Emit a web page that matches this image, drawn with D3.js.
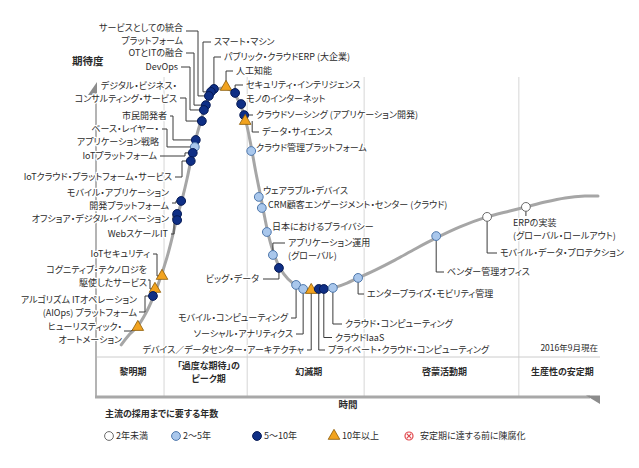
<!DOCTYPE html>
<html><head><meta charset="utf-8">
<script src="https://cdnjs.cloudflare.com/ajax/libs/d3/7.8.5/d3.min.js"></script>
<style>
body{margin:0;background:#fff;}
text{font-family:"Noto Sans CJK JP","Noto Sans",sans-serif;font-feature-settings:"palt" 1;fill:#2b2b2b;}
</style></head><body>
<svg id="c" width="639" height="468"></svg>
<script>
// ---------- DATA ----------
// Hype curve control points (time 0-100, expectation 0-100)
const curveT = [5.0,6.7,8.3,9.9,11.3,12.7,14.1,15.1,16.1,17.1,18.1,19.0,20.0,21.0,22.0,23.0,24.2,25.6,27.0,28.2,29.2,30.0,30.8,31.7,32.7,33.5,34.3,35.3,36.5,38.1,39.9,41.7,43.7,45.6,47.6,49.8,52.0,55.4,59.3,63.3,67.5,72.2,77.6,82.1,85.3,89.1,93.1,97.0,99.6];
const curveE = [1.9,5.9,8.9,13.7,19.3,26.3,34.4,41.5,49.3,55.9,63.7,71.9,79.6,85.9,91.9,95.2,96.7,97.0,95.9,92.6,88.1,82.6,75.2,65.9,56.7,48.9,41.9,35.6,30.4,26.3,23.7,22.2,21.9,22.2,23.3,24.8,26.7,29.6,33.3,37.4,41.5,45.6,49.3,51.5,53.0,54.8,56.3,57.0,57.0];

const itemNames = [
"パブリック・クラウドERP (大企業)","スマート・マシン","サービスとしての統合\nプラットフォーム","OTとITの融合","DevOps",
"デジタル・ビジネス・\nコンサルティング・サービス","市民開発者","ベース・レイヤー・\nアプリケーション戦略","IoTプラットフォーム",
"IoTクラウド・プラットフォーム・サービス","モバイル・アプリケーション\n開発プラットフォーム","オフショア・デジタル・イノベーション",
"WebスケールIT","IoTセキュリティ","コグニティブ・テクノロジを\n駆使したサービス","アルゴリズム ITオペレーション\n(AIOps) プラットフォーム",
"ヒューリスティック・\nオートメーション","人工知能","セキュリティ・インテリジェンス","モノのインターネット",
"クラウドソーシング (アプリケーション開発)","データ・サイエンス","クラウド管理プラットフォーム","ウェアラブル・デバイス",
"CRM顧客エンゲージメント・センター (クラウド)","日本におけるプライバシー","アプリケーション運用\n(グローバル)","ビッグ・データ",
"モバイル・コンピューティング","ソーシャル・アナリティクス","デバイス／データセンター・アーキテクチャ","プライベート・クラウド・コンピューティング",
"クラウドIaaS","クラウド・コンピューティング","エンタープライズ・モビリティ管理","ベンダー管理オフィス",
"モバイル・データ・プロテクション","ERPの実装\n(グローバル・ロールアウト)"];
const itemT = [23.4,22.8,22.4,21.8,21.4,21.0,19.8,19.6,19.2,18.8,16.9,16.1,16.1,13.1,11.7,11.3,8.3,25.8,27.6,28.8,29.4,29.6,30.8,32.3,32.9,33.9,35.1,36.3,39.7,41.1,42.7,44.2,45.2,47.0,52.0,67.5,77.6,85.3];
const itemE = [96.7,95.6,94.1,90.7,88.9,84.8,77.8,75.2,73.0,70.0,55.2,50.4,48.1,27.4,22.6,20.0,8.5,97.4,95.2,91.1,87.0,84.8,73.7,56.7,52.6,43.7,35.2,30.4,24.1,22.6,22.2,22.6,22.6,23.0,26.7,42.2,49.3,53.0];
// 0: <2 yrs, 1: 2-5 yrs, 2: 5-10 yrs, 3: >10 yrs
const itemCat = [2,2,2,2,2,2,2,1,2,2,2,2,2,3,3,2,3,3,2,2,2,3,1,1,1,1,1,2,1,1,3,2,2,1,1,1,0,0];

const phaseNames = ["黎明期","「過度な期待」の\nピーク期","幻滅期","啓蒙活動期","生産性の安定期"];
const phaseBounds = [0,13.5,30.0,53.2,83.9,100];
const legendTitle = "主流の採用までに要する年数";
const legendLabels = ["2年未満","2〜5年","5〜10年","10年以上","安定期に達する前に陳腐化"];
const yTitle = "期待度", xTitle = "時間", asOf = "2016年9月現在";

// ---------- LAYOUT (label placement, pixels) ----------
const layout = [
 [224,57,"start",["hv",221,57]],
 [214,42,"start",["hvh",211,42,203]],
 [183,28,"end",["hvh",186,31,198]],
 [183,53,"end",["hvh",186,53,194]],
 [178,67,"end",["hvh",181,67,190]],
 [177,86,"end",["hvh",180,98,186]],
 [167,116,"end",["hvh",170,116,173]],
 [159,129,"end",["hvh",162,129,167]],
 [157,156,"end",["hvh",160,156,185]],
 [172,177,"end",["hvh",175,177,182]],
 [169,193,"end",["hvh",172,203,176]],
 [169,219,"end",["hvh",172,219,173]],
 [168,234,"end",["hvh",171,234,174]],
 [150,254,"end",["hvh",153,254,157]],
 [147,270,"end",["hvh",148,280,150]],
 [137,300,"end",["hvh",139,312,145]],
 [122,327,"end",["hl",124,331,131]],
 [236,71,"start",["hv",233,71]],
 [246,85,"start",["hv",243,85]],
 [246,99,"start",null],
 [256,115,"start",["hv",253,115]],
 [262,132,"start",["ovh",7,132,259]],
 [256,148,"start",null],
 [263,191,"start",null],
 [268,205,"start",null],
 [272,227,"start",null],
 [288,243,"start",["vh",243,285]],
 [259,279,"end",["hv",263,279]],
 [288,318,"end",["hv",291,318]],
 [293,334,"end",["hv",296,334]],
 [304,350,"end",["hv",307,350]],
 [328,350,"start",["vh",350,325]],
 [335,337.5,"start",["vh",337.5,332]],
 [345,324,"start",["vh",324,342]],
 [367,294,"start",["vh",294,364]],
 [447,272,"start",["vh",272,444]],
 [500,253,"start",["vh",253,497]],
 [513,223,"start",["vh",216,null]]
];

// ---------- DRAW ----------
const svg = d3.select("#c");
const x = d3.scaleLinear().domain([0,100]).range([96,600]);
const y = d3.scaleLinear().domain([0,100]).range([350,80]);
const FS = 9, LH = 12.5;

const plotTop = 77, bandTop = 357, bandBot = 397;
svg.selectAll("line.div").data(phaseBounds.slice(1,-1)).join("line")
  .attr("x1",d=>x(d)).attr("x2",d=>x(d)).attr("y1",plotTop).attr("y2",bandBot)
  .attr("stroke","#d6d6d6").attr("stroke-width",1);
svg.append("line").attr("x1",x(0)).attr("x2",x(100)).attr("y1",bandTop).attr("y2",bandTop)
  .attr("stroke","#cccccc").attr("stroke-width",1);
svg.append("line").attr("x1",x(0)).attr("x2",x(0)).attr("y1",94).attr("y2",bandBot)
  .attr("stroke","#b4b4b4").attr("stroke-width",2);
svg.append("path").attr("d",`M${x(0)-8},95 L${x(0)+1},95 L${x(0)+1},82 Z`).attr("fill","#8c8c8c");
svg.append("line").attr("x1",x(0)-1).attr("x2",x(100)-10).attr("y1",bandBot).attr("y2",bandBot)
  .attr("stroke","#a8a8a8").attr("stroke-width",3);
svg.append("path").attr("d",`M${x(100)-14},${bandBot-1.5} L${x(100)},${bandBot-1.5} L${x(100)},${bandBot+7} Z`).attr("fill","#8c8c8c");

phaseNames.forEach((p,i)=>{
  const cx = (x(phaseBounds[i])+x(phaseBounds[i+1]))/2 + 3;
  const lines = p.split("\n");
  const y0 = lines.length>1 ? 365.5 : 372;
  lines.forEach((l,j)=>svg.append("text").attr("x",cx).attr("y",y0+j*13).attr("dy","0.35em")
    .attr("text-anchor","middle").attr("font-size",9).attr("font-weight","bold").text(l));
});

svg.append("text").attr("x",72).attr("y",61).attr("dy","0.35em").attr("font-size",10.5).attr("font-weight","bold").text(yTitle);
svg.append("text").attr("x",348).attr("y",405).attr("dy","0.35em").attr("text-anchor","middle").attr("font-size",9.5).attr("font-weight","bold").text(xTitle);
svg.append("text").attr("x",598).attr("y",348).attr("dy","0.35em").attr("text-anchor","end").attr("font-size",8.5).text(asOf);

const curveData = curveT.map((t,i)=>[t,curveE[i]]);
svg.append("path").datum(curveData)
  .attr("d",d3.line().x(d=>x(d[0])).y(d=>y(d[1])).curve(d3.curveCatmullRom.alpha(0.5)))
  .attr("fill","none").attr("stroke","#a6a6a6").attr("stroke-width",3).attr("stroke-linecap","round");

const items = itemNames.map((n,i)=>({name:n,t:itemT[i],e:itemE[i],cat:itemCat[i],lay:layout[i]}));
function leader(d){
  const s = d.lay[3]; if(!s) return null;
  const mx = x(d.t), my = y(d.e);
  switch(s[0]){
    case "hvh": return `M${s[1]},${s[2]}H${s[3]}V${my}H${mx}`;
    case "hv": return `M${s[1]},${s[2]}H${mx}V${my}`;
    case "vh": return s[2]==null ? `M${mx},${my}V${s[1]}` : `M${mx},${my}V${s[1]}H${s[2]}`;
    case "hl": return `M${s[1]},${s[2]}H${s[3]}L${mx},${my}`;
    case "ovh": return `M${mx+s[1]},${my}V${s[2]}H${s[3]}`;
  }
}
svg.append("g").selectAll("path").data(items.filter(d=>d.lay[3])).join("path")
  .attr("d",leader).attr("fill","none").attr("stroke","#3a3a3a").attr("stroke-width",1);

const catStyle = [
  {fill:"#ffffff",stroke:"#6b6b6b"},
  {fill:"#a9c7ec",stroke:"#4e77ab"},
  {fill:"#0f2f85",stroke:"#061a55"},
  {fill:"#f2a31f",stroke:"#8a5a08"}
];
function drawMarker(g,cat,cx,cy){
  if(cat===3){
    g.append("path").attr("d",d3.symbol(d3.symbolTriangle,58)()).attr("transform",`translate(${cx},${cy})`)
      .attr("fill",catStyle[3].fill).attr("stroke",catStyle[3].stroke).attr("stroke-width",0.8);
  } else if(cat===4){
    g.append("circle").attr("cx",cx).attr("cy",cy).attr("r",4).attr("fill","#fff").attr("stroke","#e0474c").attr("stroke-width",1.2);
    g.append("path").attr("d",`M${cx-2.3},${cy-2.3}L${cx+2.3},${cy+2.3}M${cx+2.3},${cy-2.3}L${cx-2.3},${cy+2.3}`).attr("stroke","#e0474c").attr("stroke-width",1.2);
  } else {
    g.append("circle").attr("cx",cx).attr("cy",cy).attr("r",4.4)
      .attr("fill",catStyle[cat].fill).attr("stroke",catStyle[cat].stroke).attr("stroke-width",1);
  }
}
const mg = svg.append("g");
items.forEach(d=>drawMarker(mg,d.cat,x(d.t),y(d.e)));

const lg = svg.append("g");
items.forEach(d=>{
  const [lx,ly,anc] = d.lay;
  d.name.split("\n").forEach((l,j)=>{
    lg.append("text").attr("x",lx).attr("y",ly+j*LH).attr("dy","0.35em").attr("text-anchor",anc)
      .attr("font-size",FS).attr("stroke","#fff").attr("stroke-width",2.5).attr("paint-order","stroke")
      .attr("stroke-linejoin","round").text(l);
  });
});

svg.append("text").attr("x",105).attr("y",414).attr("dy","0.35em").attr("font-size",9).attr("font-weight","bold").text(legendTitle);
const legX = [109,176,257,334,409];
const legTX = [116,183,264,342,420];
const legCats = [0,1,2,3,4];
legendLabels.forEach((l,i)=>{
  drawMarker(svg,legCats[i],legX[i],436);
  svg.append("text").attr("x",legTX[i]).attr("y",436).attr("dy","0.35em").attr("font-size",9).text(l);
});
</script></body></html>
